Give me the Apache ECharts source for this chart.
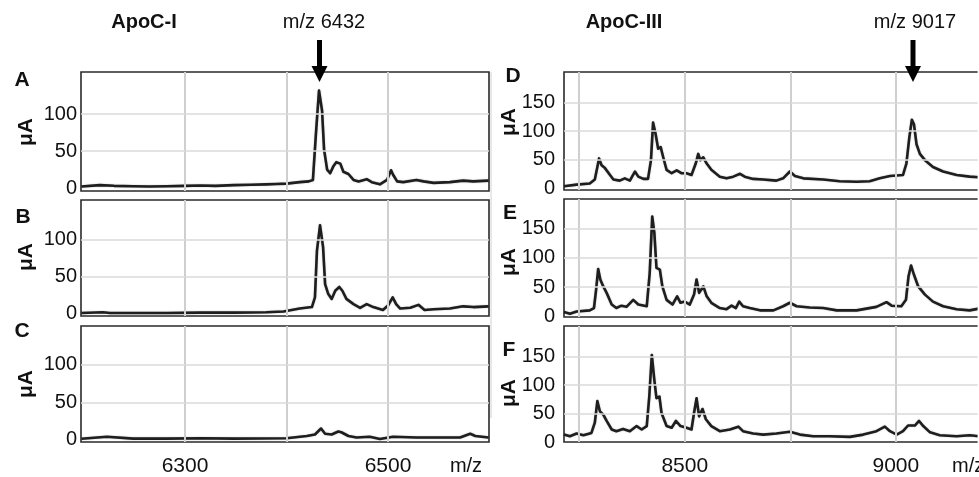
<!DOCTYPE html>
<html>
<head>
<meta charset="utf-8">
<script src="https://cdn.jsdelivr.net/npm/echarts@6/dist/echarts.min.js"></script>
<style>html,body{margin:0;padding:0;background:#fff}#c{width:979px;height:477px}</style>
</head>
<body>
<div id="c"></div>
<script>
// ---- Data (m/z, intensity in µA) ----
var apoC1_A = [[6198,2],[6216,4],[6230,3],[6249,2.5],[6265,2],[6282,2.5],[6300,3],[6315,3.5],[6330,3],[6348,4],[6365,4.5],[6380,5],[6390,5.5],[6400,6],[6413,8],[6422,9],[6426,11],[6429,74],[6432,132],[6435,105],[6437,52],[6440,25],[6443,20],[6446,29],[6449,35],[6453,33],[6456,22],[6461,19],[6466,11],[6471,9],[6479,12],[6484,8],[6492,5],[6499,11],[6503,24],[6505,18],[6509,9],[6515,8],[6528,11],[6535,9],[6545,7],[6561,8],[6574,10],[6584,9],[6599,10]];
var apoC1_B = [[6198,1],[6219,2],[6226,1],[6249,1],[6282,1],[6315,1.5],[6348,1.5],[6380,2],[6397,3],[6413,7],[6425,9],[6428,22],[6430,85],[6433,119],[6436,90],[6438,40],[6441,27],[6444.5,20],[6448,31],[6452,36],[6455,31],[6459,20],[6466,13],[6472.5,8],[6479,13],[6485.5,9],[6495,5],[6500,11],[6504.6,22],[6508,13],[6512,7],[6522,8],[6530,12],[6536,5],[6545,6],[6561,7],[6574,10],[6584,9],[6599,10]];
var apoC1_C = [[6198,1.3],[6223,4],[6249,1.5],[6282,1.5],[6315,2],[6348,1.5],[6400,2],[6420,5],[6428,7],[6434,15],[6438,8],[6444.5,7],[6451,11],[6454,10],[6461,5],[6469,3],[6482,4],[6492,1],[6505,4],[6528,3],[6571,3],[6581,8],[6586,5],[6599,3]];
var apoC3_D = [[8214,3],[8244,6],[8275,8],[8287,15],[8293,37],[8297,52],[8303,40],[8311,35],[8323,23],[8331,15],[8346,13],[8358,17],[8370,13],[8382,29],[8390,20],[8402,16],[8413,16],[8420,49],[8425,115],[8431,95],[8437,69],[8443,72],[8449,54],[8457,32],[8469,26],[8481,31],[8492,26],[8504,26],[8516,23],[8526,43],[8532,60],[8537,49],[8544,54],[8552,43],[8563,32],[8583,20],[8599,17],[8615,20],[8631,25],[8642,20],[8662,16],[8686,15],[8717,13],[8733,17],[8749,29],[8761,21],[8781,17],[8828,15],[8867,12],[8907,11],[8938,12],[8962,17],[8986,21],[9017,23],[9025,43],[9032,89],[9038,120],[9043,112],[9049,77],[9057,60],[9069,49],[9088,37],[9112,29],[9144,23],[9175,20],[9197,19]];
var apoC3_E = [[8214,7],[8228,4],[8244,8],[8275,10],[8285,14],[8290,45],[8295,81],[8300,63],[8307,51],[8315,40],[8327,20],[8338,14],[8350,18],[8362,16],[8378,28],[8390,20],[8410,17],[8417,74],[8423,171],[8428,143],[8433,83],[8441,80],[8447,51],[8457,28],[8471,20],[8482,34],[8490,23],[8500,25],[8512,20],[8522,37],[8528,63],[8534,40],[8544,51],[8552,34],[8563,23],[8583,14],[8599,12],[8611,18],[8621,14],[8629,25],[8638,17],[8654,14],[8678,10],[8710,10],[8733,17],[8749,23],[8765,17],[8796,15],[8828,14],[8860,10],[8907,10],[8954,16],[8978,24],[8990,18],[9013,17],[9024,28],[9030,68],[9036,87],[9043,71],[9053,51],[9069,37],[9088,25],[9112,17],[9144,12],[9175,10],[9197,13]];
var apoC3_F = [[8214,13],[8228,10],[8244,15],[8260,12],[8279,16],[8287,34],[8293,72],[8299,54],[8307,48],[8315,37],[8327,22],[8338,19],[8354,23],[8370,19],[8386,28],[8398,22],[8410,28],[8416,80],[8422,153],[8428,109],[8433,77],[8440,80],[8445,51],[8457,28],[8469,25],[8479,37],[8490,28],[8504,25],[8516,22],[8522,51],[8528,77],[8534,45],[8542,58],[8550,40],[8563,28],[8583,19],[8607,22],[8627,27],[8638,19],[8662,15],[8686,13],[8717,15],[8749,18],[8773,13],[8804,10],[8844,10],[8891,9],[8923,13],[8954,19],[8974,27],[8986,19],[9002,13],[9017,19],[9029,29],[9045,29],[9055,37],[9065,28],[9081,17],[9104,12],[9144,10],[9175,12],[9197,10]];

var leftTicksX = [6300, 6500];
var leftGridX = [6300, 6400, 6500];
var rightTicksX = [8500, 9000];
var rightGridX = [8250, 8500, 8750, 9000];
var leftTicksY = [0, 50, 100];
var leftGridY = [50, 100];
var rightTicksY = [0, 50, 100, 150];
var rightGridY = [50, 100, 150];

var panels = [
  {data: apoC1_A, grid: {left: 81, top: 72, width: 408, height: 119}, x: [6197.5, 6599.5], y: [-4, 157], side: 'L', showX: false},
  {data: apoC1_B, grid: {left: 81, top: 200, width: 408, height: 116}, x: [6197.5, 6599.5], y: [-3, 153], side: 'L', showX: false},
  {data: apoC1_C, grid: {left: 81, top: 326, width: 408, height: 117}, x: [6197.5, 6599.5], y: [-3, 152], side: 'L', showX: true},
  {data: apoC3_D, grid: {left: 564, top: 72, right: 0, height: 118}, x: [8214, 9197], y: [-3.5, 204], side: 'R', showX: false},
  {data: apoC3_E, grid: {left: 564, top: 199, right: 0, height: 118}, x: [8214, 9197], y: [-1.4, 201], side: 'R', showX: false},
  {data: apoC3_F, grid: {left: 564, top: 326, right: 0, height: 117}, x: [8214, 9197], y: [0, 204], side: 'R', showX: true}
];

var FONT = 'Liberation Sans, Arial, sans-serif';
var grids = [], xAxes = [], yAxes = [], series = [];
panels.forEach(function (p, i) {
  var L = p.side === 'L';
  grids.push(Object.assign({show: true, borderColor: '#2a2a2a', borderWidth: 1.6, backgroundColor: 'transparent', containLabel: false}, p.grid));
  xAxes.push({
    type: 'value', gridIndex: i, min: p.x[0], max: p.x[1],
    axisLine: {show: false}, axisTick: {show: false}, splitLine: {show: false},
    axisLabel: {show: p.showX, customValues: L ? leftTicksX : rightTicksX, fontSize: 21, color: '#111', fontFamily: FONT, margin: 14, formatter: function (v) { return String(v); }}
  });
  yAxes.push({
    type: 'value', gridIndex: i, min: p.y[0], max: p.y[1],
    axisLine: {show: false}, axisTick: {show: false}, splitLine: {show: false},
    axisLabel: {show: true, customValues: L ? leftTicksY : rightTicksY, fontSize: 20, color: '#111', fontFamily: FONT, margin: L ? 4 : 9, padding: L ? [4, 0, 0, 0] : [10, 0, 0, 0]}
  });
  var ml = [];
  (L ? leftGridX : rightGridX).forEach(function (v) { ml.push({xAxis: v, lineStyle: {color: '#cfcfcf', width: 2}}); });
  (L ? leftGridY : rightGridY).forEach(function (v) { ml.push({yAxis: v, lineStyle: {color: '#dadada', width: 1.5}}); });
  series.push({
    type: 'line', xAxisIndex: i, yAxisIndex: i, data: p.data, z: 1,
    showSymbol: false, silent: true, lineStyle: {width: 0, opacity: 0},
    markLine: {silent: true, symbol: ['none', 'none'], label: {show: false}, animation: false, lineStyle: {type: 'solid'}, data: ml}
  });
  series.push({
    type: 'line', xAxisIndex: i, yAxisIndex: i, data: p.data, z: 3,
    showSymbol: false, smooth: false, silent: true,
    lineStyle: {color: '#1e1e1e', width: 2.6, join: 'round', shadowColor: 'rgba(0,0,0,0.3)', shadowBlur: 1.5}
  });
});

function txt(x, y, s, size, bold, extra) {
  return Object.assign({type: 'text', x: x, y: y, z: 10, style: {text: s, font: (bold ? 'bold ' : '') + size + 'px ' + FONT, fill: '#111', align: 'center', verticalAlign: 'middle'}}, extra || {});
}
function arrow(cx) {
  return [
    {type: 'rect', z: 10, shape: {x: cx - 2.5, y: 40, width: 5, height: 28}, style: {fill: '#000'}},
    {type: 'polygon', z: 10, shape: {points: [[cx - 8, 66], [cx + 8, 66], [cx, 82]]}, style: {fill: '#000'}}
  ];
}
var graphics = [
  txt(144, 22, 'ApoC-I', 20, true),
  txt(324, 22, 'm/z 6432', 20, false),
  txt(624, 22, 'ApoC-III', 20, true),
  txt(915, 22, 'm/z 9017', 20, false),
  txt(22, 80, 'A', 21, true), txt(23, 217, 'B', 21, true), txt(22, 331, 'C', 21, true),
  txt(513, 76, 'D', 21, true), txt(510, 213, 'E', 21, true), txt(509, 350, 'F', 21, true),
  txt(26, 132, 'μA', 21, true, {rotation: Math.PI / 2}),
  txt(26, 257, 'μA', 21, true, {rotation: Math.PI / 2}),
  txt(26, 384, 'μA', 21, true, {rotation: Math.PI / 2}),
  txt(509, 122, 'μA', 21, true, {rotation: Math.PI / 2}),
  txt(509, 262, 'μA', 21, true, {rotation: Math.PI / 2}),
  txt(509, 393, 'μA', 21, true, {rotation: Math.PI / 2}),
  txt(466, 466, 'm/z', 20, false),
  txt(952, 466, 'm/z', 20, false, {style: {text: 'm/z', font: '20px ' + FONT, fill: '#111', align: 'left', verticalAlign: 'middle'}}),
  {type: 'line', z: 0, shape: {x1: 491, y1: 72, x2: 491, y2: 418}, style: {stroke: '#d0d0d0', lineWidth: 1}},
  {type: 'rect', z: 20, shape: {x: 977.6, y: 60, width: 4, height: 390}, style: {fill: '#fff'}}
].concat(arrow(319.5), arrow(913));

var chart = echarts.init(document.getElementById('c'), null, {renderer: 'canvas'});
chart.setOption({
  animation: false,
  backgroundColor: '#fff',
  grid: grids, xAxis: xAxes, yAxis: yAxes, series: series,
  graphic: graphics
});
</script>
</body>
</html>
